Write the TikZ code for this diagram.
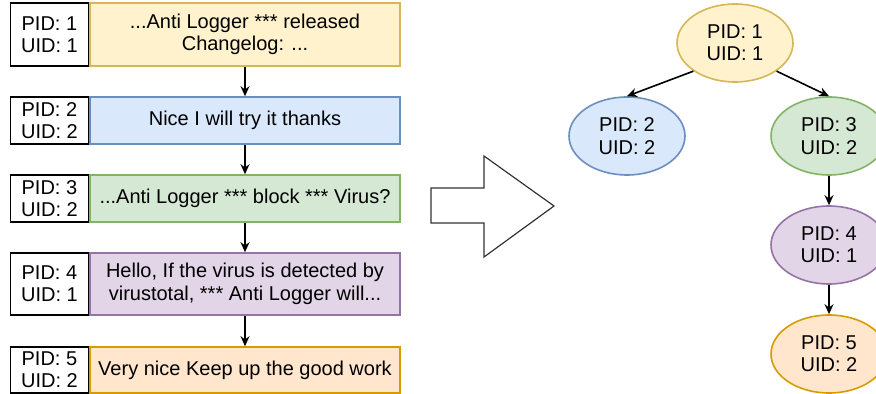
\documentclass[tikz,border=0pt]{standalone}
\usepackage{fontspec}
\setmainfont{Liberation Sans}
\usetikzlibrary{positioning,shapes.geometric,arrows.meta}

\definecolor{yellowfill}{HTML}{FFF2CC}\definecolor{yellowline}{HTML}{D6B656}
\definecolor{bluefill}{HTML}{DAE8FC}\definecolor{blueline}{HTML}{6C8EBF}
\definecolor{greenfill}{HTML}{D5E8D4}\definecolor{greenline}{HTML}{82B366}
\definecolor{purplefill}{HTML}{E1D5E7}\definecolor{purpleline}{HTML}{9673A6}
\definecolor{orangefill}{HTML}{FFE6CC}\definecolor{orangeline}{HTML}{D79B00}

\begin{document}
\begin{tikzpicture}[x=0.5pt,y=-0.5pt,
    font=\fontsize{10}{11.2}\selectfont,
    >={Stealth[length=5pt,width=4.5pt]},
    line width=0.8pt,
    idbox/.style={draw=black,fill=white,minimum width=39pt,inner sep=0pt,align=center},
    msgbox/.style={draw=#1line,fill=#1fill,minimum width=155pt,inner sep=0pt,align=center},
    procnode/.style={ellipse,draw=#1line,fill=#1fill,minimum width=58pt,minimum height=39pt,inner sep=0pt,align=center}]
      \useasboundingbox (0,0) rectangle (876,394);

      \node[msgbox=yellow,minimum height=31.5pt] (m1) at (245,34.5) {...Anti Logger *** released\\Changelog: ...};
      \node[idbox,minimum height=31.5pt,left=0pt of m1] (p1) {PID: 1\\UID: 1};
      \node[msgbox=blue,minimum height=23.5pt] (m2) at (245,120.5) {Nice I will try it thanks};
      \node[idbox,minimum height=23.5pt,left=0pt of m2] (p2) {PID: 2\\UID: 2};
      \node[msgbox=green,minimum height=23.5pt] (m3) at (245,198.5) {...Anti Logger *** block *** Virus?};
      \node[idbox,minimum height=23.5pt,left=0pt of m3] (p3) {PID: 3\\UID: 2};
      \node[msgbox=purple,minimum height=31pt] (m4) at (245,284) {Hello, If the virus is detected by\\virustotal, *** Anti Logger will...};
      \node[idbox,minimum height=31pt,left=0pt of m4] (p4) {PID: 4\\UID: 1};
      \node[msgbox=orange,minimum height=23pt] (m5) at (245,370) {Very nice Keep up the good work};
      \node[idbox,minimum height=23pt,left=0pt of m5] (p5) {PID: 5\\UID: 2};

      \draw[->] (m1) -- (m2);
      \draw[->] (m2) -- (m3);
      \draw[->] (m3) -- (m4);
      \draw[->] (m4) -- (m5);

      %% big arrow
      \draw[fill=white,line width=0.6pt,draw=black!80] (431,188) -- (484,188) -- (484,156) -- (554,206)
        -- (484,257) -- (484,223) -- (431,223) -- cycle;

      %% tree
      \node[procnode=yellow] (e1) at (735,43) {PID: 1\\UID: 1};
      \node[procnode=blue] (e2) at (627,136) {PID: 2\\UID: 2};
      \node[procnode=green] (e3) at (829,136) {PID: 3\\UID: 2};
      \node[procnode=purple] (e4) at (829,245) {PID: 4\\UID: 1};
      \node[procnode=orange] (e5) at (829,354) {PID: 5\\UID: 2};

      \draw[->] (e1.south west) -- (e2.north);
      \draw[->] (e1.south east) -- (e3.north);
      \draw[->] (e3) -- (e4);
      \draw[->] (e4) -- (e5);
    \end{tikzpicture}
\end{document}
